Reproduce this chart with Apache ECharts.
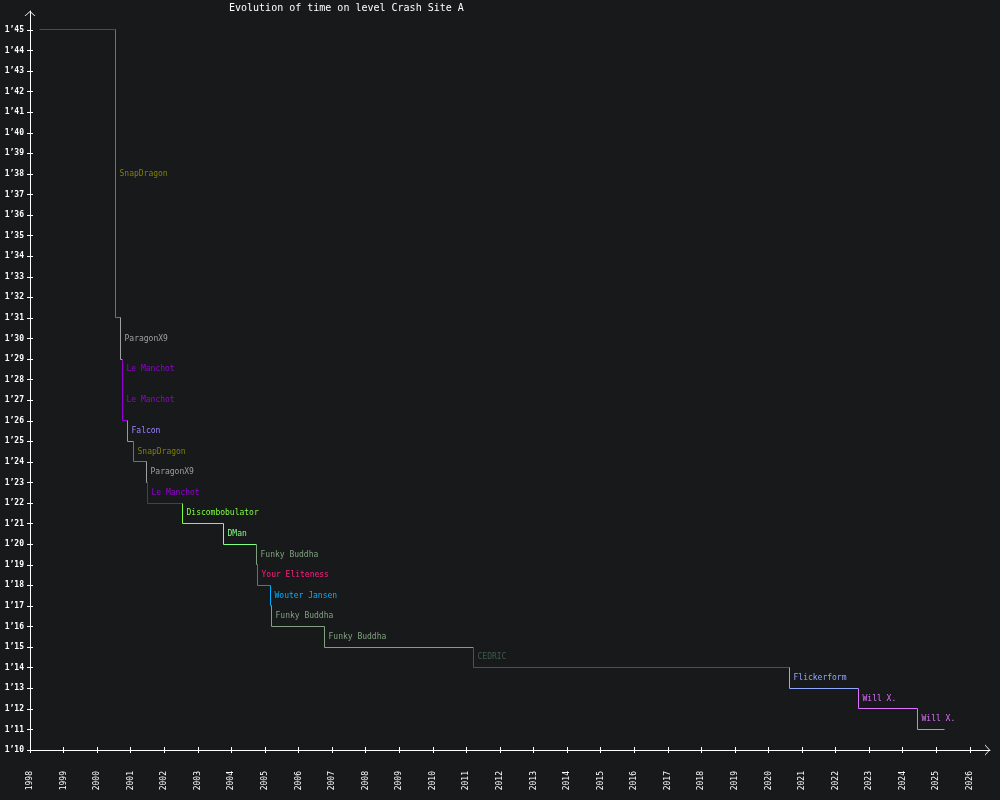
<!DOCTYPE html>
<html>
<head>
<meta charset="utf-8">
<script src="https://cdn.jsdelivr.net/npm/echarts@6/dist/echarts.min.js"></script>
<style>
  html, body { margin: 0; padding: 0; background: #18191b; }
  #chart { width: 1000px; height: 800px; }
</style>
</head>
<body>
<div id="chart"></div>
<script>
// record dates (decimal years) and times (seconds)
const dates = [1998.27, 2000.56, 2000.71, 2000.77, 2000.77, 2000.89, 2001.07, 2001.46, 2001.49,
  2002.53, 2003.75, 2004.76, 2004.79, 2005.15, 2005.18, 2006.76, 2011.20, 2020.64, 2022.69, 2024.45];
const times = [105, 91, 89, 88, 86, 85, 84, 83, 82, 81, 80, 79, 78, 77, 76, 75, 74, 73, 72, 71];
const players = ['', 'SnapDragon', 'ParagonX9', 'Le Manchot', 'Le Manchot', 'Falcon', 'SnapDragon',
  'ParagonX9', 'Le Manchot', 'Discombobulator', 'DMan', 'Funky Buddha', 'Your Eliteness',
  'Wouter Jansen', 'Funky Buddha', 'Funky Buddha', 'CEDRIC', 'Flickerform', 'Will X.', 'Will X.'];
const lastDate = 2025.24;
const years = [];
for (let y = 1998; y <= 2026; y++) years.push(y);
const secondTicks = [];
for (let s = 70; s <= 105; s++) secondTicks.push(s);

const playerColors = {
  '': '#ff0000',
  'SnapDragon': '#808000',
  'ParagonX9': '#a0a0a0',
  'Le Manchot': '#9400d3',
  'Falcon': '#a080ff',
  'Discombobulator': '#80ff40',
  'DMan': '#80ff80',
  'Funky Buddha': '#80a080',
  'Your Eliteness': '#ff2080',
  'Wouter Jansen': '#00b0ff',
  'CEDRIC': '#3f5a48',
  'Flickerform': '#90a8ff',
  'Will X.': '#e070ff'
};

const FONT = '"DejaVu Sans Mono", monospace';
const AXIS_COLOR = '#ffffff';
const ARROW = 'path://M0,10 L11,0 L22,10 L20,10 L11,2 L2,10 Z';

function fmtTime(v) {
  const m = Math.floor(v / 60);
  const s = v % 60;
  return m + '\u2019' + (s < 10 ? '0' + s : s);
}

// snap to pixel centres so 1px strokes stay crisp
const snap = v => Math.round(v - 0.5) + 0.5;

const gridBox = { left: 30, right: 10, top: 11, bottom: 50 };
const xRange = { min: 1998, max: 2026.6 };
const yRange = { min: 70, max: 105.92 };

const rows = dates.map((d, i) => [
  d,
  times[i],
  i === 0 ? times[i] : times[i - 1],
  i < dates.length - 1 ? dates[i + 1] : lastDate
]);

// vertical drop to the new time, then horizontal run until the next record
function renderStep(params, api) {
  const i = params.dataIndex;
  const color = playerColors[players[i]];
  const top = api.coord([api.value(0), api.value(2)]);
  const corner = api.coord([api.value(0), api.value(1)]);
  const end = api.coord([api.value(3), api.value(1)]);
  const x0 = snap(corner[0]), y0 = snap(top[1]), y1 = snap(corner[1]), x1 = snap(end[0]);
  const lineStyle = { stroke: color, lineWidth: 1 };
  const children = [];
  if (y1 !== y0) {
    children.push({ type: 'line', shape: { x1: x0, y1: y0, x2: x0, y2: y1 }, style: Object.assign({}, lineStyle) });
  }
  children.push({ type: 'line', shape: { x1: x0, y1: y1, x2: x1, y2: y1 }, style: Object.assign({}, lineStyle) });
  if (players[i]) {
    children.push({
      type: 'text',
      style: {
        text: players[i],
        x: x0 + 4,
        y: Math.round((top[1] + corner[1]) / 2),
        fill: color,
        font: '8px ' + FONT,
        align: 'left',
        verticalAlign: 'middle'
      }
    });
  }
  return { type: 'group', children: children };
}

const chart = echarts.init(document.getElementById('chart'));
chart.setOption({
  backgroundColor: '#18191b',
  animation: false,
  title: {
    text: 'Evolution of time on level Crash Site A',
    left: 229,
    top: 3,
    padding: 0,
    textStyle: { color: '#ffffff', fontFamily: FONT, fontSize: 10, fontWeight: 'normal' }
  },
  grid: [
    Object.assign({ containLabel: false }, gridBox),
    Object.assign({ containLabel: false }, gridBox)
  ],
  xAxis: [
    {
      type: 'value', gridIndex: 0, ...xRange,
      splitLine: { show: false },
      axisLine: {
        lineStyle: { color: AXIS_COLOR, width: 1 },
        symbol: ['none', ARROW], symbolSize: [11, 5], symbolOffset: [0, -2.5]
      },
      axisTick: { customValues: years, length: 3, lineStyle: { color: AXIS_COLOR } },
      axisLabel: {
        customValues: years, rotate: 90, margin: 21,
        formatter: v => String(v),
        color: AXIS_COLOR, fontFamily: FONT, fontSize: 8
      }
    },
    {
      type: 'value', gridIndex: 1, ...xRange,
      splitLine: { show: false },
      axisLine: { show: false },
      axisTick: { customValues: years, inside: true, length: 3, lineStyle: { color: AXIS_COLOR } },
      axisLabel: { show: false }
    }
  ],
  yAxis: [
    {
      type: 'value', gridIndex: 0, ...yRange,
      splitLine: { show: false },
      axisLine: {
        show: true,
        lineStyle: { color: AXIS_COLOR, width: 1 },
        symbol: ['none', ARROW], symbolSize: [11, 5], symbolOffset: [0, -2.5]
      },
      axisTick: { show: true, customValues: secondTicks, length: 3, lineStyle: { color: AXIS_COLOR } },
      axisLabel: {
        customValues: secondTicks, margin: 6, formatter: fmtTime,
        color: AXIS_COLOR, fontFamily: FONT, fontSize: 8, fontWeight: 'bold'
      }
    },
    {
      type: 'value', gridIndex: 1, ...yRange,
      splitLine: { show: false },
      axisLine: { show: false },
      axisTick: { show: true, customValues: secondTicks, inside: true, length: 3, lineStyle: { color: AXIS_COLOR } },
      axisLabel: { show: false }
    }
  ],
  series: [{
    type: 'custom',
    xAxisIndex: 0,
    yAxisIndex: 0,
    silent: true,
    data: rows,
    renderItem: renderStep
  }]
});
</script>
</body>
</html>
